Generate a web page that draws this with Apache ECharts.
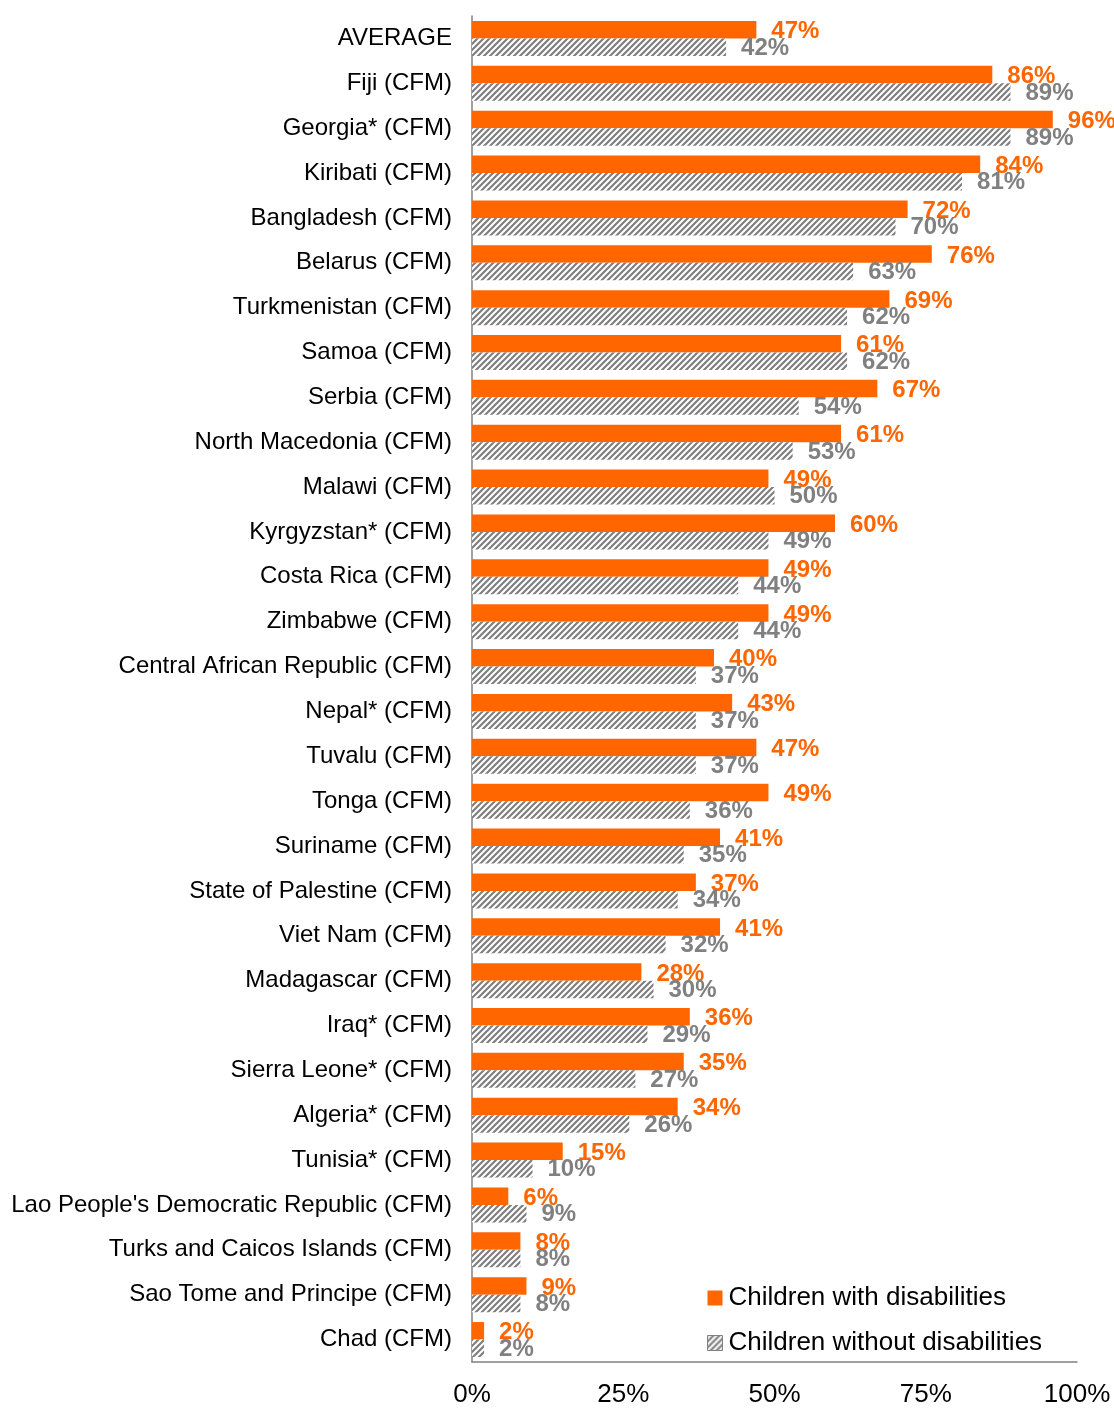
<!DOCTYPE html>
<html>
<head>
<meta charset="utf-8">
<script src="https://cdn.jsdelivr.net/npm/echarts@6/dist/echarts.min.js"></script>
<style>
  html, body { margin: 0; padding: 0; background: #fff; }
  #chart { width: 1114px; height: 1408px; }
</style>
</head>
<body>
<div id="chart"></div>
<script>
const categories = [
  'AVERAGE', 'Fiji (CFM)', 'Georgia* (CFM)', 'Kiribati (CFM)', 'Bangladesh (CFM)',
  'Belarus (CFM)', 'Turkmenistan (CFM)', 'Samoa (CFM)', 'Serbia (CFM)', 'North Macedonia (CFM)',
  'Malawi (CFM)', 'Kyrgyzstan* (CFM)', 'Costa Rica (CFM)', 'Zimbabwe (CFM)', 'Central African Republic (CFM)',
  'Nepal* (CFM)', 'Tuvalu (CFM)', 'Tonga (CFM)', 'Suriname (CFM)', 'State of Palestine (CFM)',
  'Viet Nam (CFM)', 'Madagascar (CFM)', 'Iraq* (CFM)', 'Sierra Leone* (CFM)', 'Algeria* (CFM)',
  'Tunisia* (CFM)', "Lao People's Democratic Republic (CFM)", 'Turks and Caicos Islands (CFM)',
  'Sao Tome and Principe (CFM)', 'Chad (CFM)'
]
const withDisabilities = [
  47, 86, 96, 84, 72, 76, 69, 61, 67, 61,
  49, 60, 49, 49, 40, 43, 47, 49, 41, 37,
  41, 28, 36, 35, 34, 15, 6, 8, 9, 2
]
const withoutDisabilities = [
  42, 89, 89, 81, 70, 63, 62, 62, 54, 53,
  50, 49, 44, 44, 37, 37, 37, 36, 35, 34,
  32, 30, 29, 27, 26, 10, 9, 8, 8, 2
]
const xTicks = [0, 25, 50, 75, 100]

// hatch pattern for the grey bars
function makeHatch() {
  const c = document.createElement('canvas')
  c.width = 6
  c.height = 6
  const ctx = c.getContext('2d')
  ctx.fillStyle = '#fff'
  ctx.fillRect(0, 0, 6, 6)
  ctx.strokeStyle = '#7f7f7f'
  ctx.lineWidth = 2.2
  ctx.beginPath()
  ctx.moveTo(-1, 7); ctx.lineTo(7, -1)
  ctx.moveTo(-4, 4); ctx.lineTo(4, -4)
  ctx.moveTo(2, 10); ctx.lineTo(10, 2)
  ctx.stroke()
  return c
}
const hatch = { image: makeHatch(), repeat: 'repeat' }

const chart = echarts.init(document.getElementById('chart'), null, { renderer: 'canvas' })
const font = 'Liberation Sans, Arial, sans-serif'

const option = {
  animation: false,
  textStyle: { fontFamily: font },
  grid: { left: 472, right: 37, top: 16, bottom: 40, containLabel: false },
  legend: {
    orient: 'vertical',
    left: 702,
    top: 1280,
    itemWidth: 15,
    itemHeight: 15,
    itemGap: 19,
    icon: 'rect',
    textStyle: { fontSize: 26, color: '#000', fontFamily: font, padding: [0, 0, 0, 1] },
    data: [
      { name: 'Children with disabilities' },
      { name: 'Children without disabilities', itemStyle: { borderColor: '#808080', borderWidth: 1 } }
    ]
  },
  xAxis: {
    type: 'value',
    min: 0,
    max: 100,
    interval: 25,
    axisLine: { show: true, lineStyle: { color: '#808080', width: 1.5 } },
    axisTick: { show: false },
    splitLine: { show: false },
    axisLabel: {
      fontSize: 26,
      color: '#000',
      margin: 20,
      formatter: v => (xTicks.includes(v) ? v + '%' : '')
    }
  },
  yAxis: {
    type: 'category',
    inverse: true,
    data: categories,
    axisLine: { show: true, lineStyle: { color: '#808080', width: 1.5 } },
    axisTick: { show: false },
    axisLabel: { fontSize: 24, color: '#000', margin: 20 }
  },
  series: [
    {
      name: 'Children with disabilities',
      type: 'bar',
      data: withDisabilities,
      barWidth: 17.5,
      barGap: '0%',
      itemStyle: { color: '#ff6600' },
      label: {
        show: true,
        position: 'right',
        distance: 15,
        offset: [0, 2],
        formatter: '{c}%',
        color: '#ff6600',
        fontWeight: 'bold',
        fontSize: 24
      }
    },
    {
      name: 'Children without disabilities',
      type: 'bar',
      data: withoutDisabilities,
      barWidth: 17.5,
      itemStyle: { color: hatch },
      label: {
        show: true,
        position: 'right',
        distance: 15,
        offset: [0, 1],
        formatter: '{c}%',
        color: '#808080',
        fontWeight: 'bold',
        fontSize: 24
      }
    }
  ]
}
chart.setOption(option)
</script>
</body>
</html>
